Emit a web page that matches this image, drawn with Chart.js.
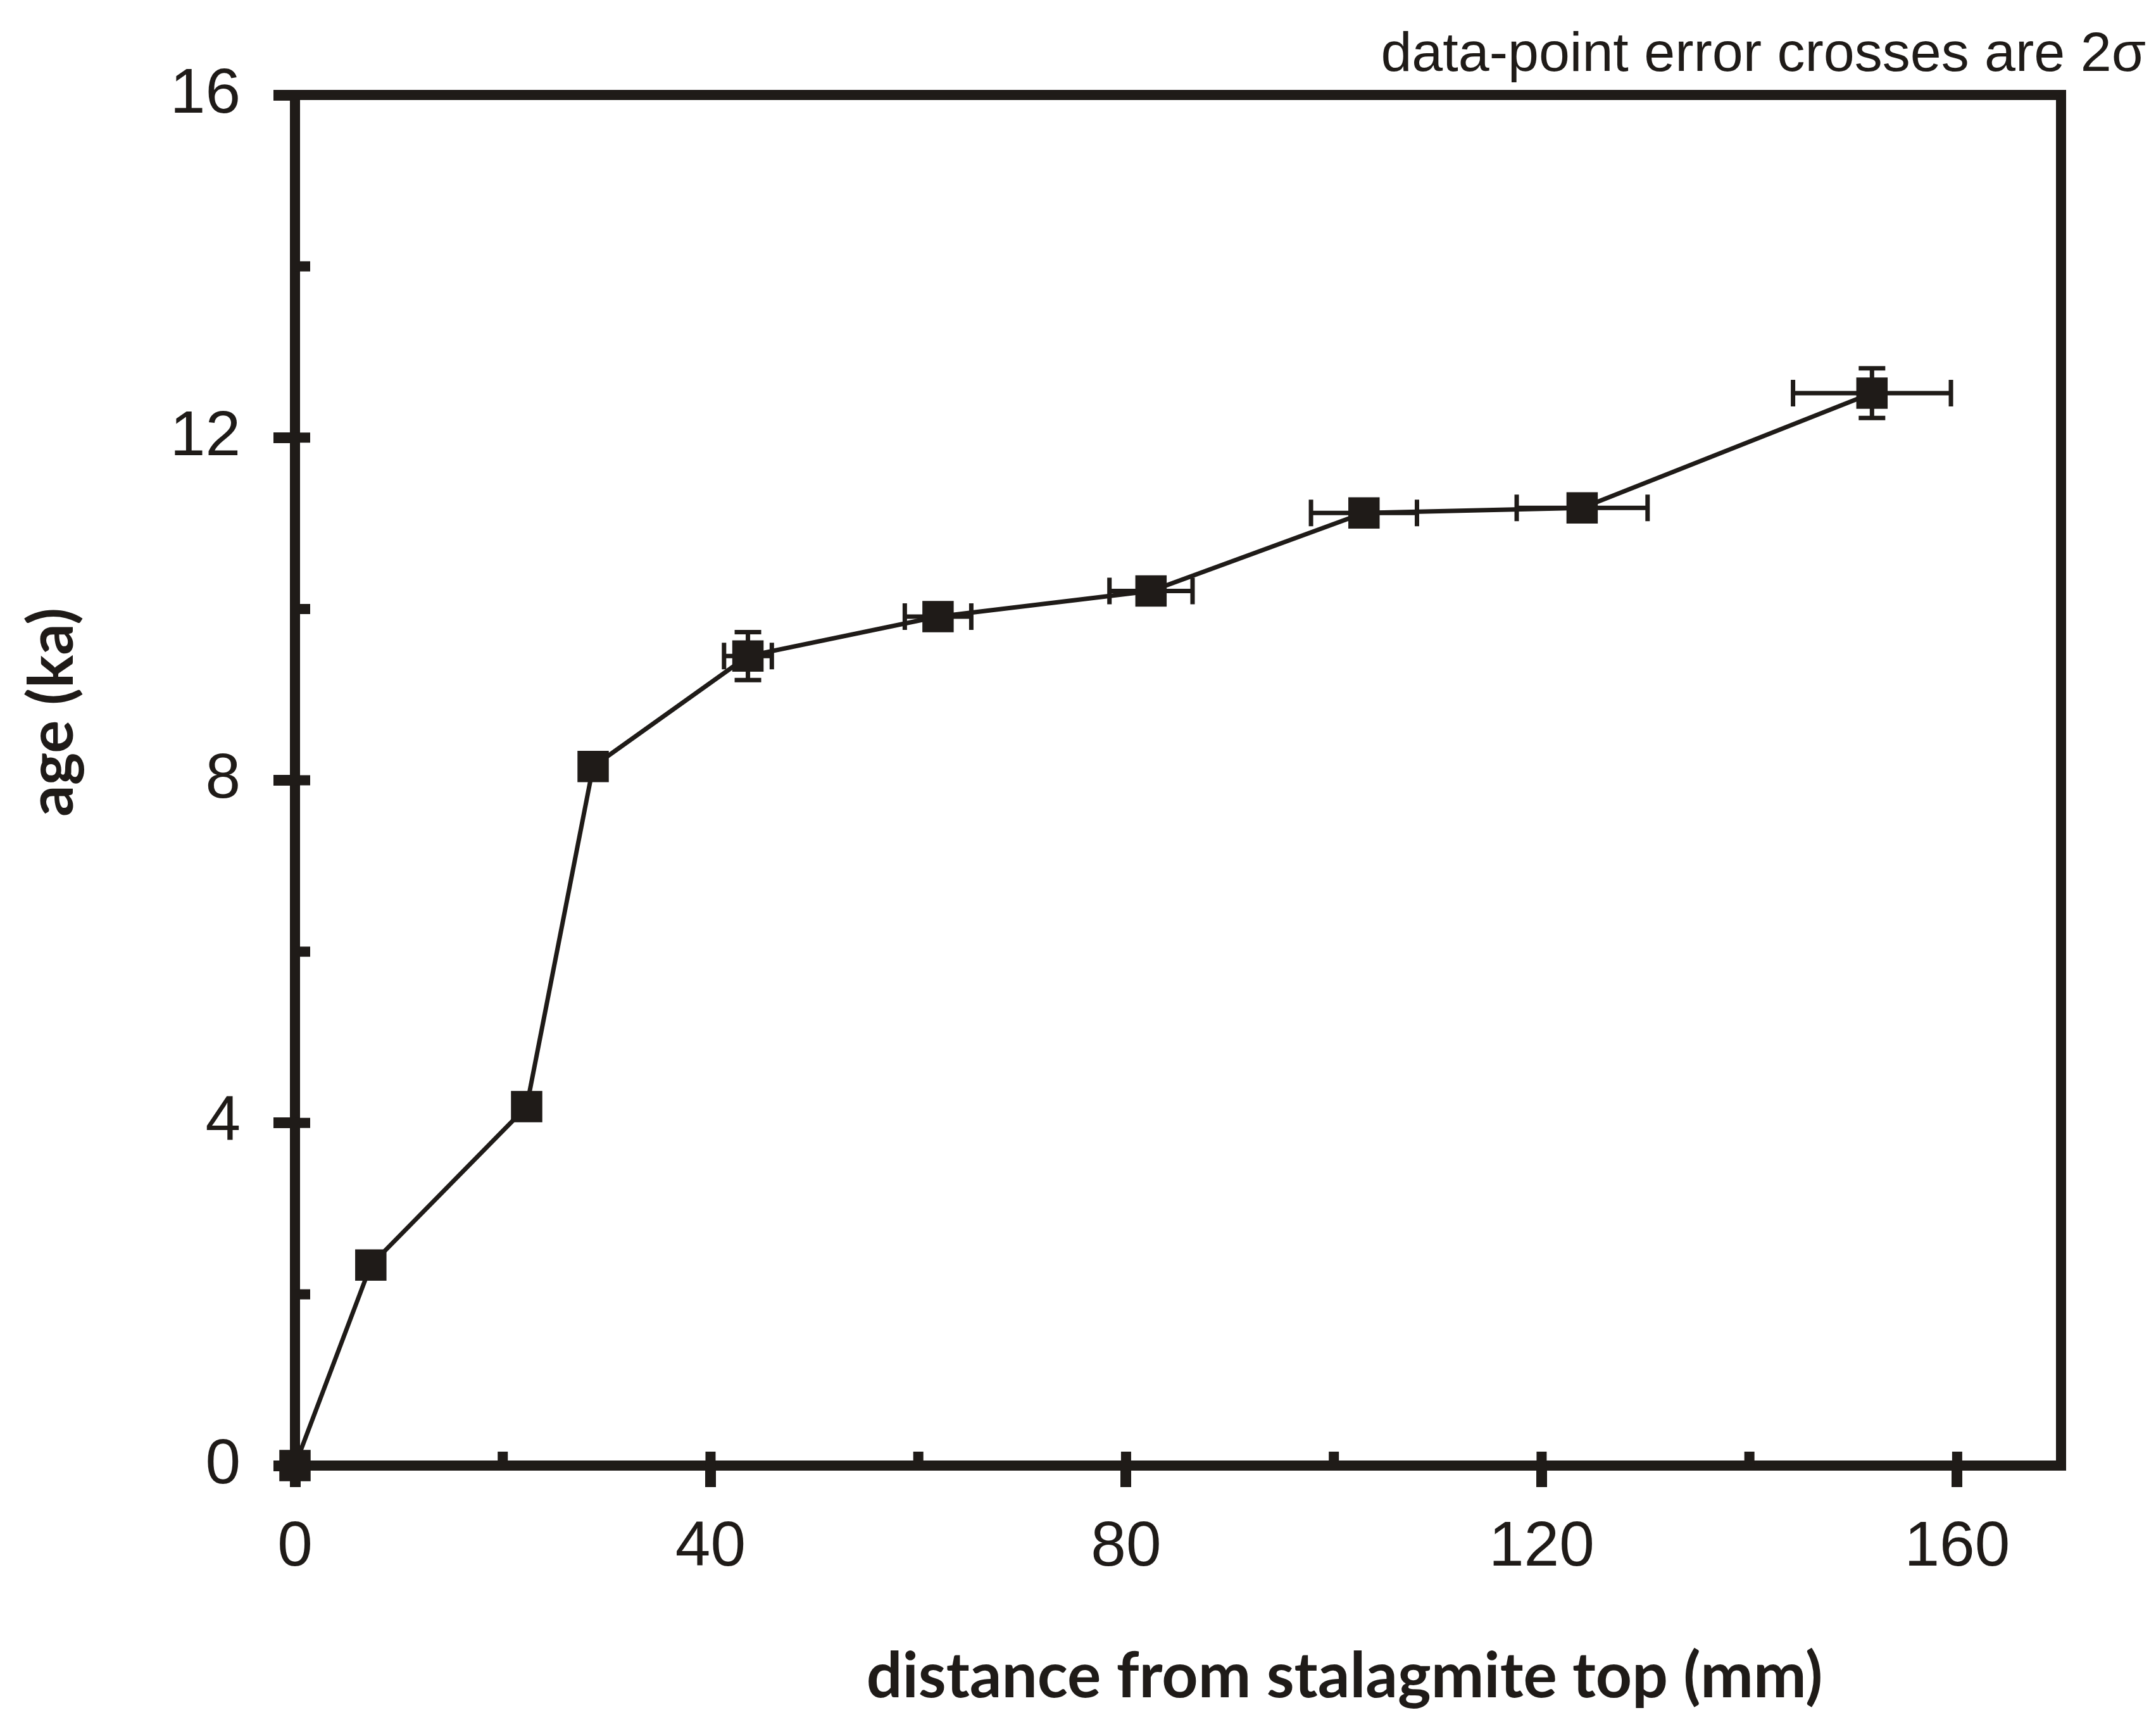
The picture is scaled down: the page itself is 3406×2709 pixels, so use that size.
<!DOCTYPE html>
<html>
<head>
<meta charset="utf-8">
<title>Stalagmite age vs distance</title>
<script src="https://cdn.jsdelivr.net/npm/chart.js@4.4.1/dist/chart.umd.min.js"></script>
<style>
  html, body { margin: 0; padding: 0; background: #fff; }
</style>
</head>
<body>
<canvas id="ageDepth" width="3406" height="2709"></canvas>
<script>
// distance from stalagmite top (mm) vs age (ka), with 2-sigma errors
var distance = [0, 7.3, 22.3, 28.7, 43.6, 61.9, 82.4, 102.9, 123.9, 151.8];
var age      = [0, 2.34, 4.19, 8.16, 9.45, 9.91, 10.21, 11.12, 11.18, 12.52];
var distErr  = [0, 0, 0, 0, 2.3, 3.2, 4.0, 5.1, 6.3, 7.6];
var ageErr   = [0, 0, 0, 0, 0.28, 0, 0, 0, 0, 0.29];

var xTicks = [0, 40, 80, 120, 160];
var xMinorTicks = [20, 60, 100, 140];
var yTicks = [0, 4, 8, 12, 16];
var yMinorTicks = [2, 6, 10, 14];

var xTitle = 'distance from stalagmite top (mm)';
var yTitle = 'age (ka)';
var note = 'data-point error crosses are 2\u03c3';

var ink = '#1f1b18';
var tickFont = { family: '"Liberation Sans", Arial, sans-serif', size: 100 };

// top/right frame plus the tick stubs that point into the plot
var frame = {
  id: 'frame',
  afterDraw: function(chart) {
    var a = chart.chartArea, ctx = chart.ctx;
    var xs = chart.scales.x, ys = chart.scales.y;
    ctx.save();
    ctx.strokeStyle = ink;
    ctx.lineWidth = 16;
    ctx.lineCap = 'square';
    ctx.beginPath();
    ctx.moveTo(a.left, a.top);
    ctx.lineTo(a.right, a.top);
    ctx.lineTo(a.right, a.bottom);
    ctx.stroke();

    ctx.lineCap = 'butt';
    ctx.beginPath();
    xTicks.concat(xMinorTicks).forEach(function(v) {
      var px = xs.getPixelForValue(v);
      ctx.moveTo(px, a.bottom);
      ctx.lineTo(px, a.bottom - 22);
    });
    yTicks.concat(yMinorTicks).forEach(function(v) {
      var py = ys.getPixelForValue(v);
      ctx.moveTo(a.left, py);
      ctx.lineTo(a.left + 24, py);
    });
    ctx.stroke();
    ctx.restore();
  }
};

// horizontal and vertical error bars with caps
var errorBars = {
  id: 'errorBars',
  beforeDatasetsDraw: function(chart) {
    var xs = chart.scales.x, ys = chart.scales.y, ctx = chart.ctx;
    var cap = 21;
    ctx.save();
    ctx.strokeStyle = ink;
    ctx.lineWidth = 7;
    ctx.beginPath();
    distance.forEach(function(d, i) {
      var px = xs.getPixelForValue(d), py = ys.getPixelForValue(age[i]);
      if (distErr[i] > 0) {
        var l = xs.getPixelForValue(d - distErr[i]);
        var r = xs.getPixelForValue(d + distErr[i]);
        ctx.moveTo(l, py); ctx.lineTo(r, py);
        ctx.moveTo(l, py - cap); ctx.lineTo(l, py + cap);
        ctx.moveTo(r, py - cap); ctx.lineTo(r, py + cap);
      }
      if (ageErr[i] > 0) {
        var t = ys.getPixelForValue(age[i] + ageErr[i]);
        var b = ys.getPixelForValue(age[i] - ageErr[i]);
        ctx.moveTo(px, t); ctx.lineTo(px, b);
        ctx.moveTo(px - cap, t); ctx.lineTo(px + cap, t);
        ctx.moveTo(px - cap, b); ctx.lineTo(px + cap, b);
      }
    });
    ctx.stroke();
    ctx.restore();
  }
};

function fitFont(ctx, text, width) {
  ctx.font = 'bold 100px Lato, "Open Sans", sans-serif';
  var size = 100 * width / ctx.measureText(text).width;
  return 'bold ' + size.toFixed(1) + 'px Lato, "Open Sans", sans-serif';
}

// axis titles and the note, placed like the original figure
var texts = {
  id: 'texts',
  afterDraw: function(chart) {
    var a = chart.chartArea, ctx = chart.ctx;
    ctx.save();
    ctx.fillStyle = ink;

    ctx.font = '88px "Liberation Sans", Arial, sans-serif';
    ctx.textAlign = 'right';
    ctx.textBaseline = 'alphabetic';
    ctx.fillText(note, a.right + 134, a.top - 38);

    ctx.textAlign = 'center';
    ctx.font = fitFont(ctx, xTitle, 1511);
    ctx.fillText(xTitle, a.left + 1658, a.bottom + 366);

    ctx.translate(a.left - 351, a.top + 975);
    ctx.rotate(-Math.PI / 2);
    ctx.font = fitFont(ctx, yTitle, 330);
    ctx.fillText(yTitle, 0, 0);
    ctx.restore();
  }
};

var points = distance.map(function(d, i) { return { x: d, y: age[i] }; });

var ctx = document.getElementById('ageDepth').getContext('2d');
var ageChart = new Chart(ctx, {
  type: 'scatter',
  data: {
    datasets: [{
      data: points,
      showLine: true,
      borderColor: ink,
      borderWidth: 7,
      pointStyle: 'rect',
      pointRadius: 35,
      pointBackgroundColor: ink,
      pointBorderWidth: 0,
      clip: false
    }]
  },
  options: {
    responsive: false,
    animation: false,
    layout: { padding: { left: 266, right: 150, top: 150, bottom: 194 } },
    plugins: { legend: { display: false }, tooltip: { enabled: false } },
    scales: {
      x: {
        type: 'linear',
        min: 0,
        max: 170,
        afterBuildTicks: function(s) { s.ticks = xTicks.map(function(v) { return { value: v }; }); },
        afterFit: function(s) { s.height = 200; },
        ticks: { font: tickFont, color: ink, padding: 36 },
        grid: { drawOnChartArea: false, tickLength: 34, tickWidth: 17, tickColor: ink },
        border: { color: ink, width: 16 }
      },
      y: {
        type: 'linear',
        min: 0,
        max: 16,
        afterBuildTicks: function(s) { s.ticks = yTicks.map(function(v) { return { value: v }; }); },
        afterFit: function(s) { s.width = 200; },
        ticks: { font: tickFont, color: ink, padding: 52 },
        grid: { drawOnChartArea: false, tickLength: 34, tickWidth: 17, tickColor: ink },
        border: { color: ink, width: 16 }
      }
    }
  },
  plugins: [errorBars, frame, texts]
});
</script>
</body>
</html>
